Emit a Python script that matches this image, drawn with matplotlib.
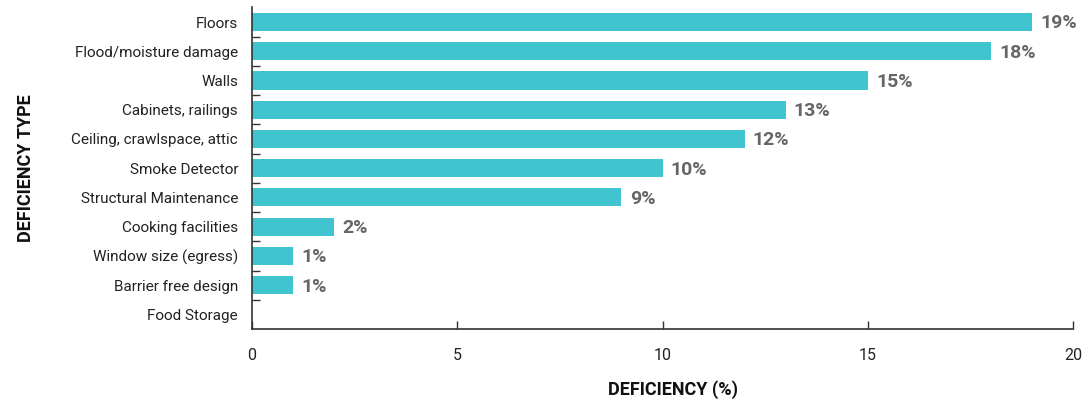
import matplotlib
matplotlib.use("Agg")
import matplotlib.pyplot as plt
from matplotlib import font_manager

categories = ["Floors", "Flood/moisture damage", "Walls", "Cabinets, railings",
              "Ceiling, crawlspace, attic", "Smoke Detector", "Structural Maintenance",
              "Cooking facilities", "Window size (egress)", "Barrier free design", "Food Storage"]
values = [19, 18, 15, 13, 12, 10, 9, 2, 1, 1, 0]
x_ticks = [0, 5, 10, 15, 20]

names = {f.name for f in font_manager.fontManager.ttflist}
fam = "Liberation Sans Narrow" if "Liberation Sans Narrow" in names else "Roboto"
plt.rcParams['font.family'] = [fam, 'DejaVu Sans']

fig = plt.figure(figsize=(10.91, 4.01), dpi=100)
ax = fig.add_axes([252/1091, 1-329/401, (1073-252)/1091, (329-7.4)/401])

ypos = list(range(len(categories)))
ax.barh(ypos, values, height=0.62, color="#40C4D0", zorder=2)
for y, v in zip(ypos, values):
    if v > 0:
        ax.text(v + 0.2, y + 0.05, f"{v}%", va="center", ha="left", fontsize=14,
                fontweight="bold", color="#666666")

ax.set_ylim(len(categories) - 0.5, -0.5)
ax.set_xlim(0, 20)
ax.set_yticks(ypos)
ax.set_yticklabels(categories, fontsize=11, color="#222222")
ax.tick_params(axis="y", length=0, pad=10)
# boundary ticks
ax.set_yticks([i + 0.5 for i in range(len(categories) - 1)], minor=True)
ax.tick_params(axis="y", which="minor", direction="in", length=6, width=1, color="#333333")
ax.set_xticks(x_ticks)
ax.set_xticklabels([str(t) for t in x_ticks], fontsize=11.5, color="#222222")
ax.tick_params(axis="x", direction="in", length=6, width=1, color="#333333", pad=14)

for s in ["top", "right"]:
    ax.spines[s].set_visible(False)
for s in ["left", "bottom"]:
    ax.spines[s].set_color("#333333")
    ax.spines[s].set_linewidth(1.2)

ax.set_xlabel("DEFICIENCY (%)", fontsize=13, fontweight="bold", color="#111111")
ax.xaxis.set_label_coords((673-252)/821, -51/321.6)
ax.set_ylabel("DEFICIENCY TYPE", fontsize=13, fontweight="bold", color="#111111")
ax.yaxis.set_label_coords(-217/821, 0.5)

fig.savefig("out.png", dpi=100)
